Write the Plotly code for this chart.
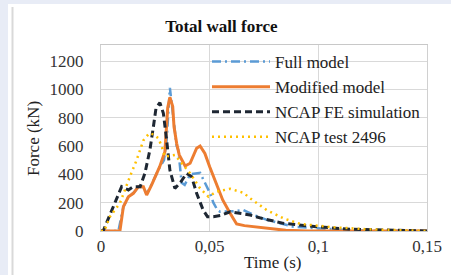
import plotly.graph_objects as go

# ---- data ----
t_full = [0, 0.008, 0.0103, 0.0126, 0.015, 0.0172, 0.0195, 0.021, 0.0233, 0.027, 0.029,
          0.0302, 0.0317, 0.0335, 0.0348, 0.0356, 0.0371, 0.0385, 0.041, 0.0456, 0.0478,
          0.0502, 0.0517, 0.0535, 0.0548, 0.0585, 0.0615, 0.0655, 0.070, 0.076, 0.0885,
          0.099, 0.11, 0.12, 0.15]
full = [0, 0, 170, 240, 270, 310, 310, 260, 330, 450, 500,
        640, 1010, 760, 600, 570, 340, 325, 400, 410, 340,
        266, 200, 150, 136, 136, 140, 148, 115, 80, 30,
        20, 10, 3, 0]

t_mod = [0, 0.0087, 0.0103, 0.0126, 0.0149, 0.0172, 0.0195, 0.021, 0.0233, 0.027, 0.0294,
         0.0300, 0.0307, 0.0317, 0.033, 0.0336, 0.0348, 0.036, 0.0387, 0.041, 0.044, 0.0456,
         0.0478, 0.050, 0.053, 0.056, 0.0594, 0.0624, 0.066, 0.070, 0.0762, 0.085, 0.095, 0.15]
mod = [0, 0, 172, 242, 266, 313, 313, 254, 325, 454, 560,
       740, 870, 944, 878, 736, 619, 537, 459, 478, 584, 600,
       548, 454, 337, 219, 125, 50, 38, 30, 19, 5, 0, 0]

t_fe = [0, 0.001, 0.0095, 0.0126, 0.0149, 0.018, 0.0202, 0.0225, 0.0241, 0.0253, 0.0271,
        0.0287, 0.0302, 0.0317, 0.034, 0.0363, 0.0394, 0.0417, 0.044, 0.047, 0.049, 0.0517,
        0.055, 0.0594, 0.0686, 0.075, 0.084, 0.099, 0.115, 0.13, 0.15]
fe = [0, 0, 313, 290, 313, 313, 407, 572, 736, 866, 906,
      831, 642, 430, 301, 337, 407, 384, 266, 148, 101, 101,
      110, 136, 113, 85, 54, 30, 12, 5, 0]

t_test = [0, 0.0015, 0.0041, 0.0087, 0.0133, 0.0164, 0.0195, 0.0222, 0.0245, 0.0264, 0.028,
          0.0294, 0.034, 0.0371, 0.041, 0.0456, 0.0494, 0.0532, 0.0594, 0.0655, 0.0686,
          0.0762, 0.0839, 0.0916, 0.107, 0.123, 0.15]
test = [0, 0, 101, 196, 384, 501, 640, 690, 680, 654, 595,
        525, 537, 478, 407, 301, 242, 278, 298, 270, 231,
        148, 90, 50, 26, 12, 0]

names = ["Full model", "Modified model", "NCAP FE simulation", "NCAP test 2496"]
x_ticks = [0, 0.05, 0.1, 0.15]
x_tick_labels = ["0", "0,05", "0,1", "0,15"]
y_ticks = [0, 200, 400, 600, 800, 1000, 1200]

# ---- figure ----
W, H = 451, 275
L, R, T, B = 101, 24, 45, 44
pw, ph = W - L - R, H - T - B

def px(x):
    return (x - L) / pw

def py(y):
    return (H - B - y) / ph

serif = "Times New Roman"

fig = go.Figure()
fig.add_trace(go.Scatter(x=t_full, y=full, name=names[0], mode="lines",
                         line=dict(color="#5B9BD5", width=2.5, dash="9px,4px,2px,4px")))
fig.add_trace(go.Scatter(x=t_mod, y=mod, name=names[1], mode="lines",
                         line=dict(color="#ED7D31", width=3)))
fig.add_trace(go.Scatter(x=t_fe, y=fe, name=names[2], mode="lines",
                         line=dict(color="#1E2733", width=3, dash="7px,4px")))
fig.add_trace(go.Scatter(x=t_test, y=test, name=names[3], mode="lines",
                         line=dict(color="#FFC000", width=2.5, dash="2px,4px")))

fig.update_layout(
    width=W, height=H,
    margin=dict(l=L, r=R, t=T, b=B, pad=0, autoexpand=False),
    paper_bgcolor="#E8ECF6",
    plot_bgcolor="white",
    font=dict(family=serif, size=17, color="#222"),
    title=dict(text="<b>Total wall force</b>", x=px(261), xanchor="center",
               y=1 - 26 / H, yanchor="middle",
               font=dict(family=serif, size=17, color="#111")),
    showlegend=True,
    legend=dict(x=px(207), y=py(44), xanchor="left", yanchor="top",
                bgcolor="rgba(0,0,0,0)", borderwidth=0, itemwidth=58,
                font=dict(family=serif, size=17, color="#222"), tracegroupgap=0),
    xaxis=dict(range=[0, 0.15], tickvals=x_ticks, ticktext=x_tick_labels,
               showgrid=True, gridcolor="#D9D9D9", gridwidth=1,
               showline=True, linecolor="#C8C8C8", linewidth=1, mirror=True,
               zeroline=False, ticks="", automargin=False,
               tickfont=dict(family=serif, size=17, color="#333")),
    yaxis=dict(range=[0, 1313], tickvals=y_ticks,
               showgrid=True, gridcolor="#D9D9D9", gridwidth=1,
               showline=True, linecolor="#D0D0D0", linewidth=1, mirror=True,
               zeroline=False, ticks="", automargin=False, ticklabelstandoff=13,
               tickfont=dict(family=serif, size=17, color="#333")),
    annotations=[
        dict(text="Time (s)", xref="paper", yref="paper", x=px(272), y=py(262),
             xanchor="center", yanchor="middle", showarrow=False,
             font=dict(family=serif, size=17, color="#222")),
        dict(text="Force (kN)", xref="paper", yref="paper", x=px(33), y=py(139),
             xanchor="center", yanchor="middle", showarrow=False, textangle=-90,
             font=dict(family=serif, size=17, color="#222")),
    ],
    shapes=[
        dict(type="rect", xref="paper", yref="paper", layer="below",
             x0=px(8), x1=px(460), y0=py(285), y1=py(4),
             fillcolor="white", line=dict(width=0)),
        dict(type="line", xref="paper", yref="paper", layer="below",
             x0=px(12.5), x1=px(12.5), y0=py(285), y1=py(7),
             line=dict(color="#D9D9D9", width=2)),
    ],
)

fig.write_html(
    "out.html",
    config={"displayModeBar": False},
    post_script="document.body.style.margin='0';document.body.style.overflow='hidden';",
)
